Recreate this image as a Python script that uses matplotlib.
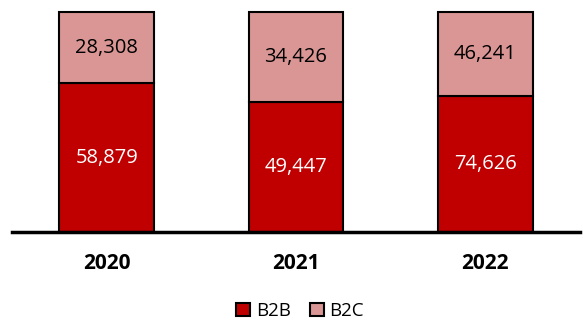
import matplotlib.pyplot as plt
import numpy as np
from matplotlib.patches import Patch

years = ["2020", "2021", "2022"]
b2b = [58879, 49447, 74626]
b2c = [28308, 34426, 46241]

plt.rcParams['font.family'] = ['Open Sans', 'DejaVu Sans']

tot = np.array(b2b) + np.array(b2c)
s_b2b = np.array(b2b) / tot
s_b2c = np.array(b2c) / tot

fig = plt.figure(figsize=(5.83, 3.24), dpi=100)
ax = fig.add_axes([0.0206, 0.284, 0.974, 0.679])
x = np.arange(len(years))
ax.bar(x, s_b2b, width=0.5, color="#C00000", edgecolor="black", linewidth=1.5, label="B2B", clip_on=False)
ax.bar(x, s_b2c, width=0.5, bottom=s_b2b, color="#D99694", edgecolor="black", linewidth=1.5, label="B2C", clip_on=False)

for i in range(len(years)):
    ax.text(x[i], s_b2b[i] / 2, f"{b2b[i]:,}", ha="center", va="center", color="white", fontsize=14.5)
    ax.text(x[i], s_b2b[i] + s_b2c[i] / 2, f"{b2c[i]:,}", ha="center", va="center", color="black", fontsize=14.5)

ax.set_xlim(-0.5, 2.5)
ax.set_ylim(0, 1)
ax.set_xticks(x)
ax.set_xticklabels(years, fontsize=15, fontweight="bold")
ax.tick_params(axis="x", length=0, pad=15)
ax.set_yticks([])
for s in ["top", "right", "left"]:
    ax.spines[s].set_visible(False)
ax.spines["bottom"].set_linewidth(2.5)
ax.spines["bottom"].set_zorder(3)

handles = [Patch(facecolor="#C00000", edgecolor="black", linewidth=1.5, label="B2B"),
           Patch(facecolor="#D99694", edgecolor="black", linewidth=1.5, label="B2C")]
fig.legend(handles=handles, loc="center", bbox_to_anchor=(0.515, 0.04), ncol=2, frameon=False,
           fontsize=13.5, handlelength=0.75, handleheight=0.75, handletextpad=0.3, columnspacing=1.0)

fig.savefig("out.png", dpi=100)
